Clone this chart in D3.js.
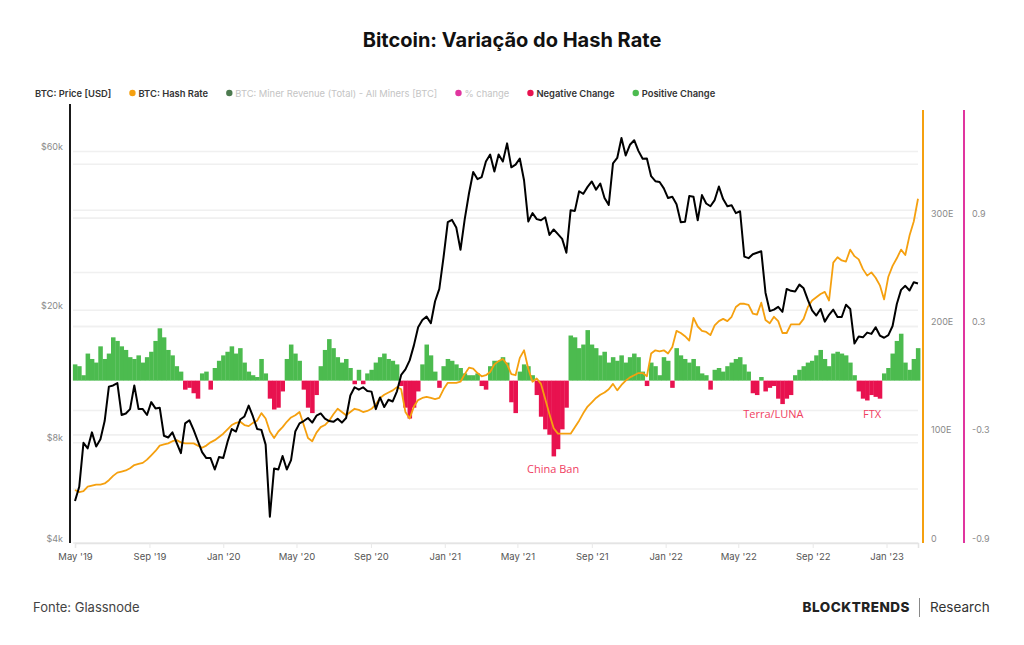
<!DOCTYPE html>
<html>
<head>
<meta charset="utf-8">
<script src="https://cdn.jsdelivr.net/npm/d3@7"></script>
<style>
  body { margin: 0; background: #fff; }
  svg { display: block; font-family: Inter, "Noto Sans", sans-serif; }
</style>
</head>
<body>
<div id="chart"></div>
<script>
// weekly samples, starting 1 May 2019
const startDate = new Date(2019, 4, 1);

const priceUsd = [5350,5900,8000,7700,8600,7800,8200,9300,11800,11900,12100,9700,9800,10100,11900,10100,10100,9700,10600,10150,10200,8400,8300,8600,8000,7450,9150,9350,8750,8100,7500,7200,7200,6650,7250,
  7200,8050,8800,8650,9400,9600,10350,9600,8800,8750,7900,4800,6700,6650,7300,6650,7100,8650,9150,9300,9500,9200,9650,9800,9450,9300,9250,9450,9200,9500,11100,11750,11550,11750,11450,11400,10100,10950,10250,10780,10650,11420,12800,13300,14150,15700,17800,18700,19150,18300,21300,23200,28900,
  36800,37400,35500,30400,37600,44900,52100,49600,50300,56000,58800,52300,58800,56000,63500,53800,54800,57200,49200,37000,39200,37600,37300,38100,33700,35000,33900,32800,29800,40000,39800,45600,44800,47000,48800,46100,48100,43500,41500,55300,57400,65900,58400,62900,64900,60300,57100,57200,50600,48900,48600,46500,
  43500,43900,41700,36800,36900,44100,43900,37300,44400,41900,41100,42900,47100,43200,41100,41400,39200,39700,29000,28700,29500,29800,30100,22600,19900,20100,20500,19800,23200,22900,22800,23900,23300,21500,20000,19300,20200,18500,19400,20100,19100,19100,20800,20200,15900,16700,16600,17150,17000,17800,16800,16550,
  16850,17950,20900,23050,23700,22950,24300,24100];

const hashRate = [49,47,48,52,53,54,54,55,58,62,65,66,67,69,72,73,74,77,81,85,90,91,92,94,95,93,92,92,92,90,88,90,93,95,98,101,105,109,111,112,
  109,108,111,113,120,115,103,97,103,107,112,116,118,121,109,97,94,102,107,109,113,119,124,121,118,121,124,123,121,122,124,128,134,137,139,141,144,142,121,115,
  126,132,134,135,134,133,134,142,148,148,148,149,156,162,161,157,154,155,158,165,168,170,165,156,155,171,178,161,149,152,147,133,119,106,101,101,101,101,107,113,
  120,126,130,134,137,139,142,147,141,146,150,153,155,157,157,154,175,178,177,178,175,181,196,194,191,187,208,200,196,195,192,201,205,207,205,209,218,221,221,220,
  212,211,222,206,203,209,205,194,194,202,202,202,207,218,224,227,230,232,224,259,264,261,260,271,265,262,253,247,250,245,238,225,246,256,263,271,266,284,297,318];

const pctChange = [0.09,0.08,0.03,0.15,0.12,0.10,0.19,0.12,0.15,0.24,0.22,0.19,0.17,0.13,0.12,0.14,0.10,0.13,0.16,0.22,
  0.29,0.24,0.17,0.14,0.08,0.05,-0.05,-0.04,-0.07,-0.10,0.04,0.05,-0.05,0.07,0.11,0.14,0.16,0.19,0.15,0.18,
  0.10,0.05,0.03,0.02,0.12,0.04,-0.10,-0.16,-0.15,-0.06,0.12,0.20,0.15,0.11,-0.05,-0.15,-0.18,-0.08,0.08,0.17,
  0.23,0.18,0.13,0.10,0.12,0.07,-0.02,0.06,-0.02,0.04,0.06,0.10,0.13,0.15,0.12,0.11,0.09,-0.03,-0.15,-0.21,
  -0.15,-0.06,0.09,0.20,0.14,0.05,-0.04,0.08,0.12,0.11,0.09,0.07,0.04,0.03,0.03,0.04,-0.03,-0.05,0.08,0.11,
  0.11,0.13,0.10,-0.12,-0.18,0.05,0.09,0.08,0.03,-0.08,-0.20,-0.27,-0.30,-0.42,-0.38,-0.27,-0.15,0.25,0.24,0.18,
  0.20,0.28,0.20,0.18,0.14,0.16,0.10,0.13,0.11,0.14,0.10,0.13,0.15,0.13,0.05,-0.03,0.10,0.08,0.03,0.13,
  0.11,-0.04,0.18,0.14,0.12,0.10,0.12,0.08,0.04,0.03,-0.05,0.06,0.07,0.05,0.08,0.10,0.12,0.13,0.09,0.05,
  -0.07,-0.08,0.02,-0.06,-0.04,-0.03,-0.10,-0.13,-0.10,-0.08,0.03,0.06,0.08,0.10,0.11,0.14,0.17,0.12,0.08,0.15,
  0.16,0.15,0.14,0.10,0.03,-0.06,-0.10,-0.11,-0.08,-0.09,-0.10,0.04,0.07,0.15,0.22,0.26,0.10,0.06,0.12,0.18];

const priceTicks = [4000, 8000, 20000, 60000];
const priceMinorTicks = [10000, 40000];
const hashTicks = [0, 100, 200, 300];
const pctTicks = [-0.9, -0.3, 0.3, 0.9];
const pctGrid = [-0.9, -0.6, -0.3, 0.3, 0.6, 0.9, 1.2];

const legendItems = [
  { label: "BTC: Price [USD]", color: null, active: true },
  { label: "BTC: Hash Rate", color: "#f5a00f", active: true },
  { label: "BTC: Miner Revenue (Total) - All Miners [BTC]", color: "#4d7a4f", active: false },
  { label: "% change", color: "#e0359f", active: false },
  { label: "Negative Change", color: "#e8124f", active: true },
  { label: "Positive Change", color: "#4cbb4f", active: true }
];

const events = [
  { label: "China Ban", date: new Date(2021, 5, 29), pct: -0.51 },
  { label: "Terra/LUNA", date: new Date(2022, 5, 28), pct: -0.205 },
  { label: "FTX", date: new Date(2022, 11, 8), pct: -0.205 }
];

const dates = priceUsd.map((_, i) => d3.timeWeek.offset(startDate, i));

const width = 1024, height = 645;
const plot = { left: 70, right: 920, top: 110, bottom: 543 };

const svg = d3.select("#chart").append("svg")
  .attr("width", width)
  .attr("height", height);

const x = d3.scaleTime()
  .domain([startDate, dates[dates.length - 1]])
  .range([75, 918]);
const yPrice = d3.scaleLog().domain([4000, 80000]).range([plot.bottom, plot.top]);
const yHash = d3.scaleLinear().domain([0, 400]).range([plot.bottom, plot.top]);
const yPct = d3.scaleLinear().domain([-0.9, 1.5]).range([plot.bottom, plot.top]);

// title
svg.append("text")
  .attr("x", width / 2)
  .attr("y", 47)
  .attr("text-anchor", "middle")
  .style("font-size", "20px")
  .style("font-weight", "700")
  .style("fill", "#111")
  .text("Bitcoin: Variação do Hash Rate");

// legend
let lx = 35;
legendItems.forEach(d => {
  if (d.color) {
    svg.append("circle")
      .attr("cx", lx + 3).attr("cy", 93).attr("r", 3.2)
      .attr("fill", d.color);
    lx += 9;
  }
  const t = svg.append("text")
    .attr("x", lx).attr("y", 96.5)
    .style("font-size", "9.4px")
    .style("font-weight", d.active ? "600" : "400")
    .style("fill", d.active ? "#333" : "#c4c4c4")
    .text(d.label);
  lx += t.node().getComputedTextLength() + 18.2;
});

// grid lines
const grid = svg.append("g").attr("stroke", "#f0f0f0").attr("stroke-width", 1.5);
[...priceTicks, ...priceMinorTicks].forEach(v => {
  grid.append("line").attr("x1", 73).attr("x2", 918).attr("y1", yPrice(v)).attr("y2", yPrice(v));
});
hashTicks.forEach(v => {
  grid.append("line").attr("x1", 73).attr("x2", 918).attr("y1", yHash(v)).attr("y2", yHash(v));
});
pctGrid.forEach(v => {
  grid.append("line").attr("x1", 73).attr("x2", 918).attr("y1", yPct(v)).attr("y2", yPct(v));
});

// x axis
const xAxis = svg.append("g")
  .attr("transform", `translate(0,${plot.bottom})`)
  .call(d3.axisBottom(x)
    .ticks(d3.timeMonth.every(4))
    .tickFormat(d3.timeFormat("%b '%y"))
    .tickSize(5)
    .tickPadding(5));
xAxis.select(".domain").attr("stroke", "#e4e4e4").attr("stroke-width", 1.5);
xAxis.selectAll(".tick line").attr("stroke", "#e8e8e8");
xAxis.selectAll(".tick text")
  .style("font-size", "9.5px")
  .style("font-family", "Inter, sans-serif")
  .style("fill", "#555");

// % change bars
const step = x(dates[1]) - x(dates[0]);
svg.append("g")
  .selectAll("rect")
  .data(pctChange)
  .join("rect")
  .attr("x", (d, i) => x(dates[i]) - step / 2)
  .attr("width", step + 0.3)
  .attr("y", d => d >= 0 ? yPct(d) : yPct(0))
  .attr("height", d => Math.abs(yPct(d) - yPct(0)))
  .attr("fill", d => d >= 0 ? "#4cbb4f" : "#e8124f");

// hash rate line
svg.append("path")
  .datum(hashRate)
  .attr("fill", "none")
  .attr("stroke", "#f5a00f")
  .attr("stroke-width", 1.8)
  .attr("stroke-linejoin", "round")
  .attr("d", d3.line().x((d, i) => x(dates[i])).y(d => yHash(d)));

// price line
svg.append("path")
  .datum(priceUsd)
  .attr("fill", "none")
  .attr("stroke", "#000")
  .attr("stroke-width", 2)
  .attr("stroke-linejoin", "round")
  .attr("d", d3.line().x((d, i) => x(dates[i])).y(d => yPrice(d)));

// event labels
svg.append("g")
  .selectAll("text")
  .data(events)
  .join("text")
  .attr("x", d => x(d.date))
  .attr("y", d => yPct(d.pct))
  .attr("text-anchor", "middle")
  .style("font-family", "'Open Sans', sans-serif")
  .style("font-size", "11px")
  .style("fill", "#f0405f")
  .text(d => d.label);

// left price axis
svg.append("line")
  .attr("x1", plot.left).attr("x2", plot.left)
  .attr("y1", 104).attr("y2", plot.bottom)
  .attr("stroke", "#1a1a1a").attr("stroke-width", 2);
svg.append("g")
  .selectAll("text")
  .data(priceTicks)
  .join("text")
  .attr("x", 63)
  .attr("y", d => yPrice(d) - 1.5)
  .attr("text-anchor", "end")
  .style("font-size", "9px")
  .style("fill", "#8a8a8a")
  .text(d => "$" + d / 1000 + "k");

// hash rate axis
svg.append("line")
  .attr("x1", 923).attr("x2", 923)
  .attr("y1", plot.top).attr("y2", plot.bottom)
  .attr("stroke", "#f5a00f").attr("stroke-width", 2);
svg.append("g")
  .selectAll("text")
  .data(hashTicks)
  .join("text")
  .attr("x", 931)
  .attr("y", d => yHash(d) - 1.5)
  .style("font-size", "9px")
  .style("fill", "#8a8a8a")
  .text(d => d === 0 ? "0" : d + "E");

// % change axis
svg.append("line")
  .attr("x1", 964).attr("x2", 964)
  .attr("y1", plot.top).attr("y2", plot.bottom)
  .attr("stroke", "#e0359f").attr("stroke-width", 2);
svg.append("g")
  .selectAll("text")
  .data(pctTicks)
  .join("text")
  .attr("x", 972)
  .attr("y", d => yPct(d) - 1.5)
  .style("font-size", "9px")
  .style("fill", "#8a8a8a")
  .text(d => d3.format(".1f")(d).replace("−", "-"));

// footer
svg.append("text")
  .attr("x", 33).attr("y", 612)
  .style("font-size", "13px")
  .style("fill", "#444")
  .text("Fonte: Glassnode");
svg.append("text")
  .attr("x", 910).attr("y", 612)
  .attr("text-anchor", "end")
  .style("font-size", "13.5px")
  .style("font-weight", "800")
  .style("letter-spacing", "0.5px")
  .style("fill", "#222")
  .text("BLOCKTRENDS");
svg.append("line")
  .attr("x1", 919.5).attr("x2", 919.5)
  .attr("y1", 598).attr("y2", 617)
  .attr("stroke", "#888").attr("stroke-width", 1);
svg.append("text")
  .attr("x", 930).attr("y", 612)
  .style("font-size", "13.5px")
  .style("fill", "#333")
  .text("Research");
</script>
</body>
</html>
